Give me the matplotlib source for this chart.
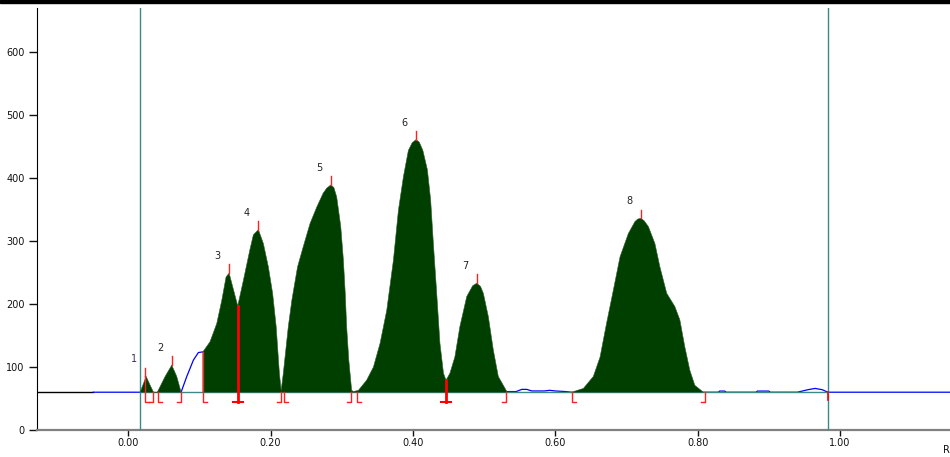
import numpy as np
import matplotlib
matplotlib.use("Agg")
import matplotlib.pyplot as plt
from matplotlib.patches import Rectangle

# densitogram profile (Rf, signal)
rf = [-0.049, 0.0169, 0.0253, 0.031, 0.0356, 0.041, 0.052, 0.0613, 0.0683, 0.0744,
      0.0824, 0.0917, 0.0987, 0.105, 0.115, 0.1245, 0.1316, 0.1376, 0.1419, 0.147,
      0.154, 0.162, 0.171, 0.176, 0.183, 0.190, 0.197, 0.203, 0.208, 0.2125,
      0.215, 0.218, 0.225, 0.230, 0.238, 0.246, 0.2556, 0.265, 0.274, 0.279,
      0.2847, 0.289, 0.293, 0.2987, 0.3024, 0.305, 0.307, 0.310, 0.314, 0.3165,
      0.3235, 0.335, 0.3446, 0.354, 0.3633, 0.3727, 0.3797, 0.3867, 0.3937, 0.399,
      0.4045, 0.409, 0.414, 0.4204, 0.425, 0.4288, 0.4335, 0.438, 0.443, 0.4466,
      0.452, 0.459, 0.466, 0.4757, 0.484, 0.4897, 0.495, 0.499, 0.506, 0.513,
      0.520, 0.532, 0.545, 0.553, 0.560, 0.567, 0.585, 0.592, 0.600, 0.615,
      0.623, 0.6395, 0.6535, 0.663, 0.672, 0.6816, 0.691, 0.7027, 0.712, 0.716,
      0.7205, 0.725, 0.7308, 0.740, 0.747, 0.7566, 0.768, 0.775, 0.782, 0.789,
      0.796, 0.808, 0.829, 0.831, 0.838, 0.840, 0.882, 0.884, 0.886, 0.900,
      0.902, 0.940, 0.955, 0.965, 0.975, 0.983, 1.16]
signal = [60, 60, 85, 71, 60, 60, 85, 103, 85, 60,
          85, 111, 123, 124, 140, 169, 206, 243, 249, 227,
          197, 238, 286, 310, 318, 296, 259, 217, 164, 90,
          63, 90, 164, 206, 259, 291, 328, 354, 376, 384,
          389, 385, 370, 323, 270, 217, 164, 111, 63, 61,
          63, 79, 100, 138, 190, 270, 349, 402, 444, 456,
          461, 457, 444, 413, 365, 296, 217, 138, 90, 79,
          90, 116, 164, 212, 229, 233, 228, 217, 180, 127,
          85, 61, 61, 64.5, 64.5, 62, 62, 63, 62, 61,
          60, 66, 85, 116, 169, 222, 275, 312, 331, 335,
          336, 332, 323, 296, 259, 217, 196, 175, 132, 95,
          71, 60, 60, 61.8, 61.8, 60, 60, 61.8, 61.8, 61.8,
          60, 60, 64, 66, 64, 60, 60]

baseline = 60
lead_in_start = -0.128
track_start, track_end = 0.0169, 0.983

# integrated regions (Rf from, Rf to)
regions = [(0.0169, 0.0744), (0.105, 0.532), (0.623, 0.808)]

peak_ids = ["1", "2", "3", "4", "5", "6", "7", "8"]
apex_rf = [0.024, 0.0613, 0.1419, 0.183, 0.2847, 0.4045, 0.4897, 0.7205]
apex_h = [85, 103, 249, 318, 389, 461, 233, 336]

starts = [0.0239, 0.0421, 0.1053, 0.2195, 0.3216, 0.6236]
start_top = [85, 60, 124, 60, 60, 60]
ends = [0.0355, 0.0744, 0.2142, 0.3125, 0.531, 0.810]
valleys = [0.154, 0.4466]
valley_top = [197, 79]

x = np.array(rf)
y = np.array(signal, dtype=float)

fig = plt.figure(figsize=(9.5, 4.57), dpi=100)
ax = fig.add_axes([37 / 950, 27 / 457, 913 / 950, 422 / 457])
ax.set_xlim(-0.128, 1.1545)
ax.set_ylim(0, 670)

fill_mask = np.zeros(len(x), dtype=bool)
inner_mask = np.zeros(len(x), dtype=bool)
for a, b in regions:
    fill_mask |= (x >= a) & (x <= b)
    inner_mask |= (x > a) & (x < b)

# raw trace outside the integrated peaks
ax.plot([lead_in_start, x[0]], [baseline, baseline], color="black", lw=1, zorder=2)
ax.plot(x, np.where(inner_mask, np.nan, y), color="#0000ff", lw=0.9, zorder=2)
ax.plot([track_start, track_end], [baseline, baseline], color="#3a8a8a", lw=1, zorder=3)
ax.axvline(track_start, color="#3a8a8a", lw=1, zorder=3)
ax.axvline(track_end, color="#3a8a8a", lw=1, zorder=3)

ax.fill_between(x, baseline, y, where=fill_mask, color="#003f00",
                edgecolor="#2f5f2f", lw=0.4, zorder=4)

red = "#ff2020"
low = 45
foot = 0.0055
for s, top in zip(starts, start_top):
    ax.plot([s + foot, s, s], [low, low, top], color=red, lw=1, zorder=5)
for e in ends:
    ax.plot([e - foot, e, e], [low, low, baseline], color=red, lw=1, zorder=5)
for v, top in zip(valleys, valley_top):
    ax.plot([v, v], [low, top], color="red", lw=2, zorder=5)
    ax.plot([v - 0.007, v + 0.007], [low, low], color="red", lw=1.5, zorder=5)
ax.plot([track_end, track_end], [48, baseline], color="red", lw=1.2, zorder=5)

for pid, px, ph in zip(peak_ids, apex_rf, apex_h):
    ax.plot([px, px], [ph, ph + 14], color=red, lw=1, zorder=5)
    ax.text(px - 0.016, ph + 27, pid, fontsize=7, ha="center", va="center",
            color="#333355" if pid == "1" else "#222222")

ax.set_yticks([0, 100, 200, 300, 400, 500, 600])
ax.set_xticks([0.0, 0.2, 0.4, 0.6, 0.8, 1.0])
ax.set_xticklabels(["0.00", "0.20", "0.40", "0.60", "0.80", "1.00"])
ax.tick_params(axis="y", labelsize=7, length=6, width=1, pad=3, colors="#111111")
ax.tick_params(axis="x", labelsize=7, length=4, width=1, pad=2, colors="#111111")

for side in ["top", "right"]:
    ax.spines[side].set_visible(False)
ax.spines["left"].set_color("black")
ax.spines["bottom"].set_color("#808080")
ax.spines["bottom"].set_linewidth(1.6)

fig.text(943 / 950, 7 / 457, "R", fontsize=7, ha="left", va="center", color="#111111")
fig.patches.append(Rectangle((0, 454 / 457), 1, 3 / 457, transform=fig.transFigure,
                             color="black", zorder=10))

fig.savefig("out.png", dpi=100)
